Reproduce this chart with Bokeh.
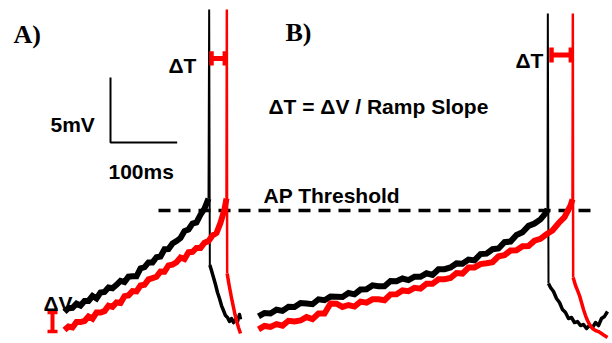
from bokeh.plotting import figure
from bokeh.models import Range1d, Label
from bokeh.embed import file_html
from bokeh.resources import INLINE

# Time in ms, membrane potential in mV relative to AP threshold (0 mV)
# ---------------- Panel A ----------------
a_black_t = [84, 90, 96, 102, 108, 114, 120, 126, 132, 138, 144, 150, 156, 162, 168, 174, 180, 186,
             192, 198, 204, 210, 216, 222, 228, 234, 240, 246, 252, 258, 264, 270, 276, 282, 288, 294, 300]
a_black_v = [-7.80, -7.51, -7.48, -7.17, -7.31, -6.96, -6.96, -6.58, -6.77, -6.31, -6.27, -5.92, -5.98,
             -5.72, -5.42, -5.51, -5.09, -5.05, -5.06, -4.46, -4.36, -3.99, -3.99, -3.59, -3.54, -2.98,
             -2.97, -2.54, -2.35, -2.12, -1.58, -1.46, -1.00, -0.92, -0.32, 0.15, 0.92]
a_black_spike_t = [300, 301, 302]
a_black_spike_v = [0.92, 15.46, -4.2]
a_black_decay_t = [302, 304.5, 307.5, 310.5, 313.5, 316.5, 319.5, 322.5, 325.5, 328.5, 331.5, 334.5,
                   337.5, 340.5, 343.5, 346.5, 348]
a_black_decay_v = [-4.2, -4.62, -5.15, -5.69, -6.31, -6.77, -7.31, -7.69, -8.08, -8.23, -8.54, -8.31,
                   -8.62, -8.38, -8.54, -8.0, -8.38]

a_red_t = [84, 90, 96, 102, 108, 114, 120, 126, 132, 138, 144, 150, 156, 162, 168, 174, 180, 186, 192,
           198, 204, 210, 216, 222, 228, 234, 240, 246, 252, 258, 264, 270, 276, 282, 288, 294, 300, 306,
           312, 318, 324, 327]
a_red_v = [-9.20, -8.93, -9.00, -8.58, -8.58, -8.50, -8.15, -8.32, -7.85, -7.85, -7.74, -7.32, -7.41,
           -7.07, -7.12, -6.59, -6.53, -6.20, -6.22, -5.77, -5.71, -5.30, -5.20, -5.10, -4.69, -4.71,
           -4.22, -4.16, -3.98, -3.62, -3.74, -3.21, -3.18, -2.88, -2.88, -2.48, -2.35, -1.92, -1.73,
           -0.95, 0.09, 0.92]
a_red_spike_t = [327, 327.5, 328]
a_red_spike_v = [0.92, 15.46, -4.85]
a_red_decay_t = [328, 331, 333, 335.25, 337.5, 339.75, 342, 345, 348]
a_red_decay_v = [-4.85, -5.77, -6.31, -6.92, -7.46, -8.0, -8.46, -9.0, -9.46]

# ---------------- Panel B ----------------
b_black_t = [375, 384, 393, 402, 411, 420, 429, 438, 447, 456, 465, 474, 483, 492, 501, 510, 519, 528,
             537, 546, 555, 564, 573, 582, 591, 600, 609, 618, 627, 636, 645, 654, 663, 672, 681, 690,
             699, 708, 717, 726, 735, 744, 753, 762, 771, 780, 789, 798, 807, 808.5]
b_black_v = [-8.15, -7.88, -7.92, -7.63, -7.72, -7.41, -7.42, -7.12, -7.16, -7.21, -6.83, -6.90, -6.62,
             -6.64, -6.65, -6.35, -6.45, -6.08, -6.06, -5.76, -5.82, -5.83, -5.43, -5.44, -5.23, -5.35,
             -5.09, -5.10, -4.83, -4.95, -4.52, -4.51, -4.38, -4.07, -4.10, -3.78, -3.84, -3.35, -3.32,
             -2.98, -2.92, -2.44, -2.39, -1.88, -1.67, -1.18, -1.00, -0.68, -0.12, 0.15]
b_black_spike_t = [808.5, 809, 810]
b_black_spike_v = [0.15, 15.15, -5.62]
b_black_decay_t = [810, 813, 817.5, 822, 826.5, 831, 835.5, 840, 844.5, 849, 853.5, 858, 862.5, 867,
                   871.5, 876, 880.5, 885, 889.5, 894, 898.5]
b_black_decay_v = [-5.62, -5.92, -6.23, -6.77, -7.08, -7.62, -7.85, -8.31, -8.23, -8.62, -8.54, -8.85,
                   -8.77, -9.08, -8.85, -9.0, -8.62, -8.85, -8.31, -8.15, -7.77]

b_red_t = [375, 384, 393, 402, 411, 420, 429, 438, 447, 456, 465, 474, 483, 492, 501, 510, 519, 528,
           537, 546, 555, 564, 573, 582, 591, 600, 609, 618, 627, 636, 645, 654, 663, 672, 681, 690, 699,
           708, 717, 726, 735, 744, 753, 762, 771, 780, 789, 798, 807, 816, 825, 834, 843, 846]
b_red_v = [-9.15, -8.88, -8.96, -8.74, -8.86, -8.48, -8.53, -8.46, -8.20, -8.36, -7.93, -7.92, -7.15,
           -7.17, -7.42, -7.27, -7.39, -7.01, -7.09, -6.83, -6.83, -6.90, -6.45, -6.44, -6.15, -6.20,
           -5.95, -6.01, -5.63, -5.64, -5.29, -5.28, -5.19, -4.81, -4.85, -4.39, -4.38, -4.12, -4.06,
           -3.98, -3.52, -3.44, -3.08, -3.06, -2.75, -2.73, -2.32, -2.18, -1.82, -1.54, -0.98, -0.51,
           0.37, 0.85]
b_red_spike_t = [846, 846.5, 847]
b_red_spike_v = [0.85, 15.15, -5.15]
b_red_decay_t = [847, 850.5, 853.5, 856.5, 859.5, 862.5, 865.5, 868.5, 871.5, 876, 880.5, 885, 889.5,
                 894, 898.5]
b_red_decay_v = [-5.15, -5.77, -6.15, -6.54, -7.08, -7.62, -8.08, -8.46, -8.77, -9.08, -9.23, -9.31,
                 -9.46, -9.62, -9.77]

# Threshold and scale bar values
threshold_v = 0.0
threshold_t = [225, 876]
scale_t = [153, 153, 253]      # 100 ms
scale_v = [10.23, 5.23, 5.23]  # 5 mV

# Delta-T markers (between black and red spike times) and Delta-V marker
dT_A = [302, 327]
dT_A_v = 11.7
dT_B = [812, 846]
dT_B_v = 11.96
dV_t = 66
dV_v = [-7.85, -9.3]

RED = "#ff0000"
BLACK = "#000000"

p = figure(width=612, height=343, x_range=Range1d(-12, 906), y_range=Range1d(-10.23, 16.154),
           output_backend="svg", toolbar_location=None, min_border=0,
           x_axis_type=None, y_axis_type=None)
p.grid.visible = False
p.outline_line_color = None
p.background_fill_color = "white"
p.border_fill_color = "white"

# threshold
p.line(threshold_t, [threshold_v, threshold_v], line_color=BLACK, line_width=3.5, line_dash="12 8")

# scale bar
p.line(scale_t, scale_v, line_color=BLACK, line_width=2)

# traces: black first, then red
for t, v, st, sv, dt, dv, col, sw in [
    (a_black_t, a_black_v, a_black_spike_t, a_black_spike_v, a_black_decay_t, a_black_decay_v, BLACK, 2),
    (b_black_t, b_black_v, b_black_spike_t, b_black_spike_v, b_black_decay_t, b_black_decay_v, BLACK, 2),
    (a_red_t, a_red_v, a_red_spike_t, a_red_spike_v, a_red_decay_t, a_red_decay_v, RED, 2.5),
    (b_red_t, b_red_v, b_red_spike_t, b_red_spike_v, b_red_decay_t, b_red_decay_v, RED, 2.5),
]:
    p.line(t, v, line_color=col, line_width=6, line_join="miter")
    p.line(st, sv, line_color=col, line_width=sw)
    p.line(dt, dv, line_color=col, line_width=3.5, line_join="round")

# Delta-T bars
for (t0, t1), yv, cap in [(dT_A, dT_A_v, 0.55), (dT_B, dT_B_v, 0.58)]:
    p.segment(x0=[t0], y0=[yv], x1=[t1], y1=[yv], line_color=RED, line_width=5)
    p.segment(x0=[t0 + 2.5, t1 - 2.5], y0=[yv - cap, yv - cap], x1=[t0 + 2.5, t1 - 2.5],
              y1=[yv + cap, yv + cap], line_color=RED, line_width=4.5)

# Delta-V marker (red I)
p.segment(x0=[dV_t], y0=[dV_v[0]], x1=[dV_t], y1=[dV_v[1]], line_color=RED, line_width=4)
p.segment(x0=[dV_t - 7.5, dV_t - 7.5], y0=dV_v, x1=[dV_t + 7.5, dV_t + 7.5], y1=dV_v,
          line_color=RED, line_width=3.5)

SANS = "Liberation Sans"
SERIF = "Liberation Serif"


def add_label(x, y, text, font=SANS, size="21px", color=BLACK):
    p.add_layout(Label(x=x, y=y, text=text, text_font=font, text_font_style="bold",
                       text_font_size=size, text_color=color, text_baseline="alphabetic",
                       text_align="left"))


add_label(7.5, 13.54, "A)", font=SERIF, size="26px")
add_label(415.5, 13.72, "B)", font=SERIF, size="26px")
add_label(240, 11.15, "ΔT")
add_label(760.5, 11.54, "ΔT")
add_label(390, 8.0, "ΔT = ΔV / Ramp Slope")
add_label(63, 6.62, "5mV")
add_label(150, 3.0, "100ms")
add_label(382.5, 1.15, "AP Threshold")
add_label(52.5, -7.12, "ΔV")

open("out.html", "w").write(file_html(p, INLINE))
